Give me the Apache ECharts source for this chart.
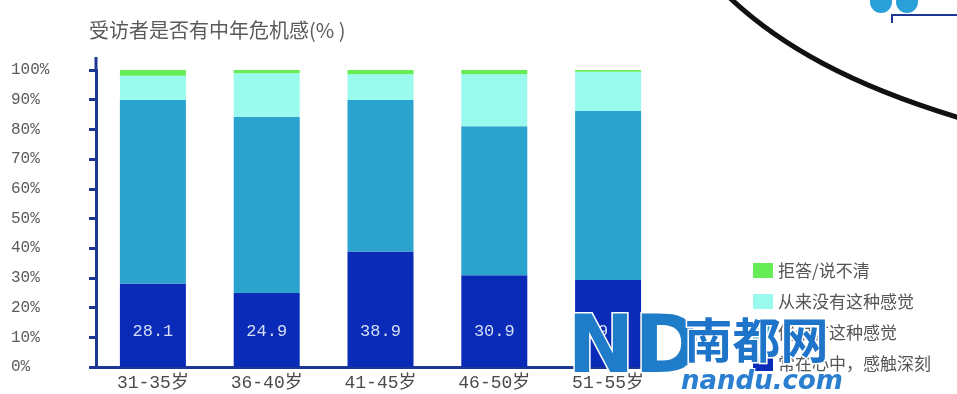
<!DOCTYPE html>
<html><head><meta charset="utf-8">
<script src="https://cdn.jsdelivr.net/npm/echarts@6/dist/echarts.min.js"></script>
<style>html,body{margin:0;padding:0;background:#fff}#c{width:957px;height:394px}</style>
</head><body><div id="c"></div>
<script>
var categories = ['31-35岁', '36-40岁', '41-45岁', '46-50岁', '51-55岁'];
var deepFelt = [28.1, 24.9, 38.9, 30.9, 29.3];
var sometimes = [61.8, 59.4, 51.0, 50.2, 56.9];
var never = [8.2, 14.6, 8.7, 17.5, 13.2];
var refused = [1.9, 1.1, 1.4, 1.4, 0.6];
var yTicks = [0, 10, 20, 30, 40, 50, 60, 70, 80, 90, 100];
var seriesNames = ['常在心中，感触深刻', '偶尔有这种感觉', '从来没有这种感觉', '拒答/说不清'];
var titleText = '受访者是否有中年危机感(% )';

var mono = "'Liberation Mono','DejaVu Sans Mono','Noto Sans CJK SC',monospace";
var cjk = "'Noto Sans CJK SC','Noto Sans',sans-serif";
var axisColor = '#1d3794';

var chart = echarts.init(document.getElementById('c'));
function bar(name, data, color, label) {
  return {
    name: name, type: 'bar', stack: 'all', data: data, barCategoryGap: '42%',
    itemStyle: {color: color},
    label: label ? {show: true, position: 'insideBottom', distance: 27, color: '#d4def5',
      fontFamily: mono, fontSize: 17} : {show: false},
    emphasis: {disabled: true}
  };
}
chart.setOption({
  animation: false,
  title: {text: titleText, left: 84, top: 15,
    textStyle: {fontFamily: cjk, fontSize: 20, fontWeight: 'normal', color: '#5a5a5a'}},
  grid: {left: 96, right: 292, top: 70, bottom: 27, containLabel: false},
  legend: {
    orient: 'vertical', left: 748, top: 257, itemWidth: 20, itemHeight: 15, itemGap: 14,
    icon: 'rect',
    data: [seriesNames[3], seriesNames[2], seriesNames[1], seriesNames[0]],
    textStyle: {fontFamily: cjk, fontSize: 17, color: '#555'}
  },
  xAxis: {
    type: 'category', data: categories,
    axisLine: {lineStyle: {color: axisColor, width: 3}},
    axisTick: {show: false},
    axisLabel: {margin: 7, fontFamily: mono, fontSize: 18, color: '#4a4a4a'}
  },
  yAxis: {
    type: 'value', min: yTicks[0], max: yTicks[yTicks.length - 1], interval: 10,
    splitLine: {show: false},
    axisLine: {show: true, lineStyle: {color: axisColor, width: 3}},
    axisTick: {show: true, inside: false, length: 7, lineStyle: {color: axisColor, width: 3}},
    axisLabel: {formatter: '{value}%', align: 'left', margin: 85, fontFamily: mono,
      fontSize: 16, color: '#5a5a5a'}
  },
  series: [
    bar(seriesNames[0], deepFelt, '#0a2bb8', true),
    bar(seriesNames[1], sometimes, '#2ba3cf', false),
    bar(seriesNames[2], never, '#9bfaee', false),
    bar(seriesNames[3], refused, '#66ec55', false)
  ],
  graphic: [
    {type: 'line', shape: {x1: 96, y1: 57, x2: 96, y2: 71}, style: {stroke: axisColor, lineWidth: 3}},
    {type: 'bezierCurve', shape: {x1: 730, y1: -2, cpx1: 780, cpy1: 45, cpx2: 850, cpy2: 85, x2: 960, y2: 118},
      style: {stroke: '#111', lineWidth: 5, fill: null}},
    {type: 'circle', shape: {cx: 881, cy: 2, r: 11}, style: {fill: '#2aa0d8'}},
    {type: 'circle', shape: {cx: 907, cy: 2, r: 11}, style: {fill: '#2aa0d8'}},
    {type: 'polyline', shape: {points: [[892, 23], [892, 15], [957, 15]]}, style: {stroke: axisColor, lineWidth: 2, fill: null}},
    {type: 'text', left: 566, top: 310, z: 100,
      style: {text: 'ND', fontSize: 80, fontWeight: 'bold', fontFamily: "'DejaVu Sans',sans-serif",
        fill: '#1f7cc8', stroke: '#ffffff', lineWidth: 3}},
    {type: 'text', left: 683, top: 314, z: 100,
      style: {text: '南都网', fontSize: 48, fontWeight: 'bold', fontFamily: cjk, fill: '#1e74c8', stroke: '#fff', lineWidth: 3}},
    {type: 'text', left: 680, top: 368, z: 100,
      style: {text: 'nandu.com', fontSize: 26, fontWeight: 'bold', fontStyle: 'italic', fontFamily: "'DejaVu Sans',sans-serif", fill: '#2a7fd0', stroke: '#fff', lineWidth: 2}}
  ]
});
</script></body></html>
